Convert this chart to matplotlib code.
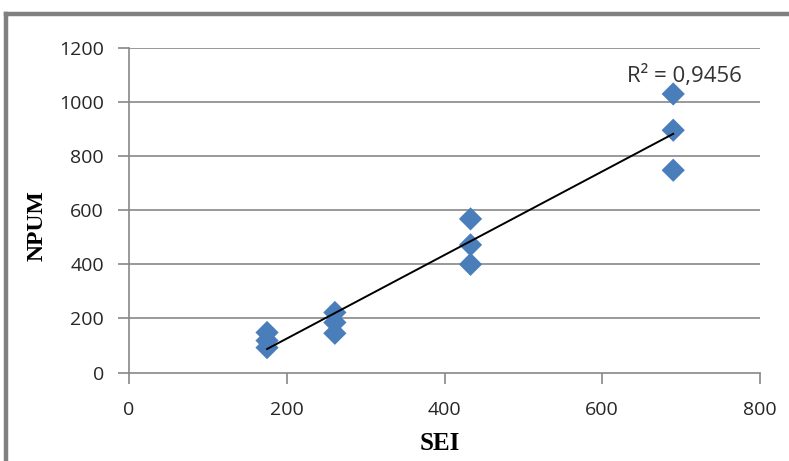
import numpy as np
import matplotlib as mpl
mpl.use('Agg')
import matplotlib.pyplot as plt
from matplotlib.lines import Line2D

# values
sei = [175, 175, 175, 261, 261, 261, 433, 433, 433, 690, 690, 690]
npum = [148, 118, 92, 222, 185, 145, 568, 472, 400, 1030, 896, 748]
x_ticks = [0, 200, 400, 600, 800]
y_ticks = [0, 200, 400, 600, 800, 1000, 1200]
r2_label = 'R² = 0,9456'

blue = '#4A7EBB'
grid_gray = '#878787'
W, H = 789, 461

fig = plt.figure(figsize=(W / 100, H / 100), dpi=100)
fig.patch.set_facecolor('white')

# grey frame of the chart area (only top and left edges are visible)
fig.add_artist(Line2D([6/W, 1.0], [1 - 14/H, 1 - 14/H], transform=fig.transFigure,
                      color='#808080', lw=3.2))
fig.add_artist(Line2D([6/W, 6/W], [0.0, 1 - 14/H], transform=fig.transFigure,
                      color='#808080', lw=3.2))

ax = fig.add_axes([129/W, 1 - 372.5/H, (760 - 129)/W, (372.5 - 48)/H])
ax.set_xlim(0, 800)
ax.set_ylim(0, 1200)

for y in y_ticks[1:]:
    ax.axhline(y, color=grid_gray, lw=1.2, zorder=0)

ax.scatter(sei, npum, marker='D', s=140, color=blue, edgecolors='none', zorder=3)

# linear trend line
k, b = np.polyfit(sei, npum, 1)
xs = np.array([min(sei), max(sei)])
ax.plot(xs, k * xs + b, color='black', lw=1.4, zorder=4)

ax.text(704, 1098, r2_label, ha='center', va='center', fontsize=16,
        family='Open Sans', color='#333333')

for side in ['top', 'right']:
    ax.spines[side].set_visible(False)
for side in ['left', 'bottom']:
    ax.spines[side].set_color(grid_gray)
    ax.spines[side].set_linewidth(1.2)

ax.set_xticks(x_ticks)
ax.set_yticks(y_ticks)
ax.tick_params(direction='out', length=8, width=1.2, color=grid_gray,
               labelsize=14, labelcolor='#262626')
ax.tick_params(axis='x', pad=12.5)
ax.tick_params(axis='y', pad=10)
for lab in ax.get_xticklabels() + ax.get_yticklabels():
    lab.set_family('Open Sans')

ax.set_xlabel('SEI', family='Liberation Serif', fontweight='bold', fontsize=18)
ax.set_ylabel('NPUM', family='Liberation Serif', fontweight='bold', fontsize=17)
ax.xaxis.set_label_coords(0.493, -0.238)
ax.xaxis.label.set_verticalalignment('baseline')
ax.yaxis.set_label_coords(-0.146, 0.454)
ax.yaxis.label.set_verticalalignment('center')

fig.savefig('out.png', dpi=100)
